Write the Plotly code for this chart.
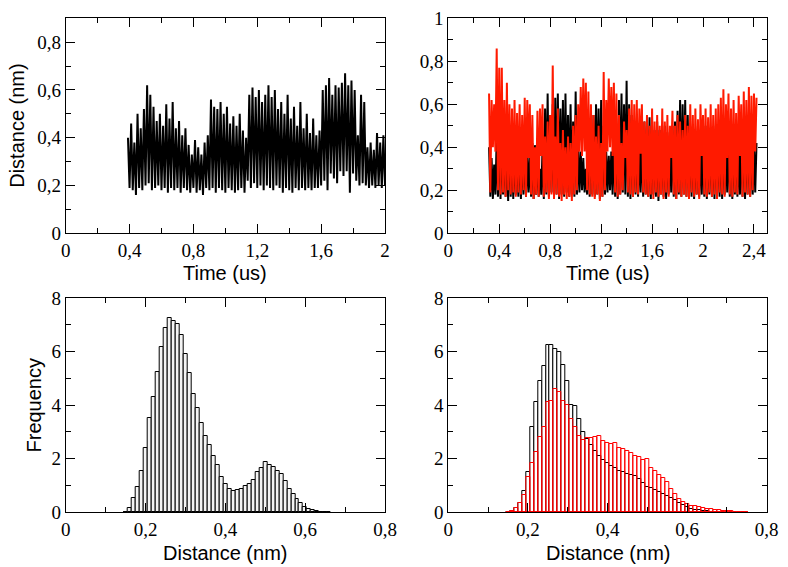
import numpy as np
import plotly.graph_objects as go

# ---------------- data ----------------
# Top-left: distance vs time (us), sampled every 0.01 us from 0.39, alternating upper/lower excursions
tl_t0, tl_dt = 0.39, 0.01
tl_dist = [
    0.40, 0.19, 0.46, 0.18, 0.38, 0.16, 0.50, 0.19, 0.44, 0.18,
    0.52, 0.20, 0.62, 0.21, 0.58, 0.18, 0.53, 0.19, 0.47, 0.20,
    0.50, 0.18, 0.45, 0.19, 0.54, 0.17, 0.48, 0.19, 0.55, 0.18,
    0.44, 0.19, 0.47, 0.17, 0.41, 0.19, 0.44, 0.18, 0.37, 0.17,
    0.33, 0.19, 0.39, 0.17, 0.36, 0.18, 0.33, 0.16, 0.38, 0.19,
    0.41, 0.18, 0.56, 0.19, 0.53, 0.17, 0.52, 0.19, 0.55, 0.18,
    0.50, 0.17, 0.53, 0.19, 0.46, 0.18, 0.49, 0.17, 0.45, 0.18,
    0.50, 0.19, 0.43, 0.17, 0.40, 0.22, 0.58, 0.19, 0.61, 0.21,
    0.57, 0.19, 0.60, 0.20, 0.55, 0.18, 0.58, 0.20, 0.62, 0.19,
    0.57, 0.18, 0.60, 0.20, 0.52, 0.19, 0.55, 0.17, 0.50, 0.19,
    0.58, 0.18, 0.48, 0.17, 0.53, 0.19, 0.45, 0.18, 0.55, 0.19,
    0.44, 0.18, 0.50, 0.19, 0.42, 0.18, 0.48, 0.19, 0.41, 0.19,
    0.43, 0.20, 0.60, 0.22, 0.62, 0.18, 0.65, 0.25, 0.58, 0.23,
    0.62, 0.21, 0.61, 0.26, 0.63, 0.24, 0.67, 0.26, 0.62, 0.17,
    0.64, 0.25, 0.60, 0.22, 0.41, 0.20, 0.58, 0.21, 0.55, 0.20,
    0.36, 0.19, 0.38, 0.20, 0.35, 0.19, 0.42, 0.20, 0.38, 0.19,
    0.41, 0.20,
]

# Top-right: two systems, sampled every 0.01 us from 0.32
tr_t0, tr_dt = 0.32, 0.01
tr_black = [
    0.40, 0.17, 0.35, 0.16, 0.32, 0.18, 0.45, 0.17, 0.55, 0.16,
    0.50, 0.18, 0.45, 0.17, 0.40, 0.15, 0.50, 0.17, 0.45, 0.16,
    0.42, 0.18, 0.40, 0.17, 0.45, 0.16, 0.40, 0.18, 0.44, 0.17,
    0.38, 0.19, 0.35, 0.17, 0.42, 0.16, 0.41, 0.18, 0.38, 0.17,
    0.30, 0.18, 0.40, 0.16, 0.58, 0.18, 0.65, 0.17, 0.55, 0.19,
    0.60, 0.17, 0.63, 0.18, 0.65, 0.16, 0.58, 0.18, 0.62, 0.17,
    0.65, 0.19, 0.55, 0.17, 0.60, 0.18, 0.52, 0.17, 0.66, 0.18,
    0.40, 0.19, 0.38, 0.20, 0.35, 0.19, 0.30, 0.18, 0.45, 0.17,
    0.50, 0.18, 0.55, 0.17, 0.60, 0.18, 0.58, 0.16, 0.62, 0.17,
    0.50, 0.18, 0.38, 0.19, 0.36, 0.20, 0.38, 0.18, 0.45, 0.17,
    0.50, 0.16, 0.62, 0.18, 0.65, 0.19, 0.60, 0.18, 0.71, 0.17,
    0.60, 0.16, 0.55, 0.17, 0.50, 0.18, 0.45, 0.17, 0.40, 0.19,
    0.45, 0.17, 0.52, 0.18, 0.50, 0.17, 0.54, 0.16, 0.50, 0.18,
    0.48, 0.17, 0.52, 0.15, 0.48, 0.18, 0.45, 0.17, 0.50, 0.16,
    0.47, 0.18, 0.45, 0.19, 0.50, 0.17, 0.52, 0.16, 0.57, 0.18,
    0.62, 0.17, 0.60, 0.18, 0.62, 0.17, 0.55, 0.18, 0.48, 0.17,
    0.50, 0.16, 0.45, 0.18, 0.50, 0.17, 0.40, 0.18, 0.42, 0.17,
    0.50, 0.16, 0.45, 0.18, 0.48, 0.17, 0.45, 0.16, 0.50, 0.18,
    0.45, 0.17, 0.48, 0.16, 0.45, 0.18, 0.40, 0.19, 0.45, 0.17,
    0.48, 0.16, 0.45, 0.18, 0.50, 0.17, 0.38, 0.18, 0.45, 0.17,
    0.50, 0.16, 0.48, 0.18, 0.50, 0.17, 0.45, 0.18, 0.40, 0.19,
    0.42,
]
tr_red = [
    0.65, 0.19, 0.62, 0.40, 0.60, 0.38, 0.86, 0.20, 0.77, 0.18,
    0.77, 0.19, 0.62, 0.17, 0.70, 0.20, 0.60, 0.18, 0.58, 0.19,
    0.62, 0.17, 0.56, 0.19, 0.60, 0.18, 0.55, 0.20, 0.63, 0.17,
    0.62, 0.35, 0.60, 0.18, 0.55, 0.16, 0.40, 0.18, 0.57, 0.17,
    0.58, 0.36, 0.60, 0.17, 0.45, 0.19, 0.52, 0.16, 0.55, 0.18,
    0.78, 0.16, 0.45, 0.18, 0.58, 0.17, 0.42, 0.15, 0.48, 0.18,
    0.40, 0.16, 0.45, 0.17, 0.42, 0.15, 0.50, 0.18, 0.55, 0.20,
    0.60, 0.38, 0.68, 0.36, 0.72, 0.38, 0.70, 0.20, 0.66, 0.18,
    0.60, 0.17, 0.55, 0.16, 0.45, 0.18, 0.50, 0.15, 0.42, 0.17,
    0.75, 0.20, 0.62, 0.38, 0.72, 0.40, 0.68, 0.36, 0.70, 0.19,
    0.65, 0.17, 0.55, 0.18, 0.42, 0.20, 0.52, 0.35, 0.48, 0.19,
    0.58, 0.18, 0.62, 0.17, 0.60, 0.19, 0.62, 0.18, 0.58, 0.37,
    0.60, 0.19, 0.52, 0.18, 0.55, 0.17, 0.50, 0.18, 0.58, 0.16,
    0.52, 0.19, 0.55, 0.17, 0.50, 0.18, 0.58, 0.16, 0.52, 0.19,
    0.55, 0.17, 0.50, 0.35, 0.57, 0.18, 0.50, 0.16, 0.55, 0.19,
    0.52, 0.17, 0.48, 0.18, 0.55, 0.17, 0.50, 0.16, 0.60, 0.19,
    0.55, 0.17, 0.58, 0.18, 0.53, 0.16, 0.60, 0.36, 0.55, 0.18,
    0.58, 0.17, 0.54, 0.19, 0.60, 0.17, 0.55, 0.18, 0.58, 0.16,
    0.60, 0.19, 0.63, 0.18, 0.67, 0.17, 0.60, 0.35, 0.65, 0.18,
    0.58, 0.17, 0.62, 0.19, 0.56, 0.18, 0.64, 0.36, 0.60, 0.17,
    0.66, 0.19, 0.62, 0.18, 0.68, 0.17, 0.64, 0.20, 0.65, 0.38,
    0.63,
]

# Histograms: bin width 0.01 nm, first bin centre 0.15 nm
bin_w = 0.01
bl_first = 0.15
bl_freq = [
    0.03, 0.15, 0.55, 0.96, 1.55, 2.39, 3.51, 4.32, 5.25, 6.18,
    6.87, 7.26, 7.16, 7.02, 6.62, 5.92, 5.20, 4.42, 3.90, 3.32,
    2.84, 2.50, 2.12, 1.75, 1.30, 1.06, 0.86, 0.80, 0.84, 0.88,
    1.00, 1.05, 1.22, 1.50, 1.66, 1.87, 1.76, 1.68, 1.56, 1.43,
    1.15, 0.88, 0.67, 0.48, 0.34, 0.21, 0.11, 0.07, 0.05, 0.03,
    0.02, 0.01,
]
br_first = 0.15
br_black = [
    0.02, 0.05, 0.15, 0.35, 0.80, 1.50, 3.20, 4.10, 4.90, 5.45,
    6.25, 6.25, 6.10, 6.00, 5.50, 4.90, 4.00, 3.95, 3.50, 3.00,
    2.75, 2.50, 2.30, 2.10, 1.95, 1.85, 1.72, 1.65, 1.55, 1.50,
    1.42, 1.40, 1.35, 1.25, 1.10, 0.95, 0.90, 0.82, 0.75, 0.68,
    0.62, 0.55, 0.45, 0.35, 0.27, 0.20, 0.14, 0.10, 0.07, 0.05,
    0.04, 0.02, 0.01,
]
br_red = [
    0.02, 0.06, 0.15, 0.35, 0.65, 1.30, 1.85, 2.25, 2.80, 3.20,
    4.10, 4.15, 4.62, 4.50, 4.15, 4.00, 3.50, 3.20, 2.85, 2.70,
    2.78, 2.78, 2.80, 2.85, 2.65, 2.60, 2.55, 2.57, 2.40, 2.35,
    2.30, 2.22, 2.10, 2.05, 1.95, 1.98, 1.65, 1.55, 1.40, 1.28,
    1.12, 0.88, 0.70, 0.50, 0.38, 0.30, 0.25, 0.22, 0.20, 0.17,
    0.14, 0.12, 0.10, 0.08, 0.06, 0.05, 0.04, 0.03, 0.02, 0.01,
    0.01,
]

# tick labels (comma decimal)
tl_xticks = [0, 0.4, 0.8, 1.2, 1.6, 2.0]
tl_xtext = ["0", "0,4", "0,8", "1,2", "1,6", "2"]
tl_yticks = [0, 0.2, 0.4, 0.6, 0.8]
tl_ytext = ["0", "0,2", "0,4", "0,6", "0,8"]
tr_xticks = [0, 0.4, 0.8, 1.2, 1.6, 2.0, 2.4]
tr_xtext = ["0", "0,4", "0,8", "1,2", "1,6", "2", "2,4"]
tr_yticks = [0, 0.2, 0.4, 0.6, 0.8, 1.0]
tr_ytext = ["0", "0,2", "0,4", "0,6", "0,8", "1"]
h_xticks = [0, 0.2, 0.4, 0.6, 0.8]
h_xtext = ["0", "0,2", "0,4", "0,6", "0,8"]
h_yticks = [0, 2, 4, 6, 8]
h_ytext = ["0", "2", "4", "6", "8"]

# ---------------- figure ----------------
W, H = 788, 567
fig = go.Figure()

def times(t0, dt, n):
    return np.round(t0 + dt * np.arange(n), 4)

fig.add_trace(go.Scatter(x=times(tl_t0, tl_dt, len(tl_dist)), y=tl_dist, mode="lines",
                         line=dict(color="black", width=2), xaxis="x", yaxis="y"))
fig.add_trace(go.Scatter(x=times(tr_t0, tr_dt, len(tr_black)), y=tr_black, mode="lines",
                         line=dict(color="black", width=2), xaxis="x2", yaxis="y2"))
fig.add_trace(go.Scatter(x=times(tr_t0, tr_dt, len(tr_red)), y=tr_red, mode="lines",
                         line=dict(color="#ff1a00", width=2), xaxis="x2", yaxis="y2"))

def centres(first, n):
    return np.round(first + bin_w * np.arange(n), 4)

fig.add_trace(go.Bar(x=centres(bl_first, len(bl_freq)), y=bl_freq, width=bin_w,
                     marker=dict(color="#f4f4f4", line=dict(color="black", width=1)),
                     xaxis="x3", yaxis="y3"))
fig.add_trace(go.Bar(x=centres(br_first, len(br_black)), y=br_black, width=bin_w,
                     marker=dict(color="white", line=dict(color="black", width=1)),
                     xaxis="x4", yaxis="y4"))
fig.add_trace(go.Bar(x=centres(br_first, len(br_red)), y=br_red, width=bin_w,
                     marker=dict(color="rgba(255,255,255,0)", line=dict(color="#ff0000", width=1)),
                     xaxis="x4", yaxis="y4"))

def px_x(a, b):
    return [a / W, b / W]

def px_y(top, bottom):
    return [1 - bottom / H, 1 - top / H]

tick_font = dict(family="Liberation Serif", size=19, color="black")

def axis(domain, rng, tv, tt, minor_vals, anchor):
    return dict(domain=domain, range=rng, tickmode="array", tickvals=tv, ticktext=tt,
                ticks="inside", ticklen=9, tickwidth=1, tickcolor="black",
                minor=dict(tickmode="array", tickvals=minor_vals, ticks="inside", ticklen=5,
                           tickwidth=1, tickcolor="black", showgrid=False),
                showline=True, linecolor="black", linewidth=1, mirror="allticks",
                showgrid=False, zeroline=False, tickfont=tick_font, anchor=anchor,
                automargin=False, fixedrange=True)

xl, xr = px_x(65.7, 385.0), px_x(448.3, 766.7)
yt, yb = px_y(18.3, 233.3), px_y(298.0, 512.3)

fig.update_layout(
    template="none",
    width=W, height=H, margin=dict(l=0, r=0, t=0, b=0, autoexpand=False),
    paper_bgcolor="white", plot_bgcolor="white", showlegend=False,
    barmode="overlay", bargap=0,
    xaxis=axis(xl, [0, 2.0], tl_xticks, tl_xtext, [0.2, 0.6, 1.0, 1.4, 1.8], "y"),
    yaxis=axis(yt, [0, 0.9], tl_yticks, tl_ytext, [0.1, 0.3, 0.5, 0.7], "x"),
    xaxis2=axis(xr, [0, 2.5], tr_xticks, tr_xtext, [0.2, 0.6, 1.0, 1.4, 1.8, 2.2], "y2"),
    yaxis2=axis(yt, [0, 1.0], tr_yticks, tr_ytext, [0.1, 0.3, 0.5, 0.7, 0.9], "x2"),
    xaxis3=axis(xl, [0, 0.8], h_xticks, h_xtext, [0.1, 0.3, 0.5, 0.7], "y3"),
    yaxis3=axis(yb, [0, 8], h_yticks, h_ytext, [1, 3, 5, 7], "x3"),
    xaxis4=axis(xr, [0, 0.8], h_xticks, h_xtext, [0.1, 0.3, 0.5, 0.7], "y4"),
    yaxis4=axis(yb, [0, 8], h_yticks, h_ytext, [1, 3, 5, 7], "x4"),
)

title_font = dict(family="Liberation Sans", size=20, color="black")

def note(text, x, y, angle=0):
    fig.add_annotation(text=text, x=x / W, y=1 - y / H, xref="paper", yref="paper",
                       showarrow=False, textangle=angle, font=title_font,
                       xanchor="center", yanchor="middle")

note("Distance (nm)", 17, 125.8, -90)
note("Time (us)", 225.4, 273)
note("Time (us)", 607.5, 273)
note("Frequency", 33.5, 405, -90)
note("Distance (nm)", 225.4, 553)
note("Distance (nm)", 607.5, 553)

fig.write_html(
    "out.html",
    config={"displayModeBar": False},
    post_script="document.body.style.margin='0';document.body.style.overflow='hidden';",
)
